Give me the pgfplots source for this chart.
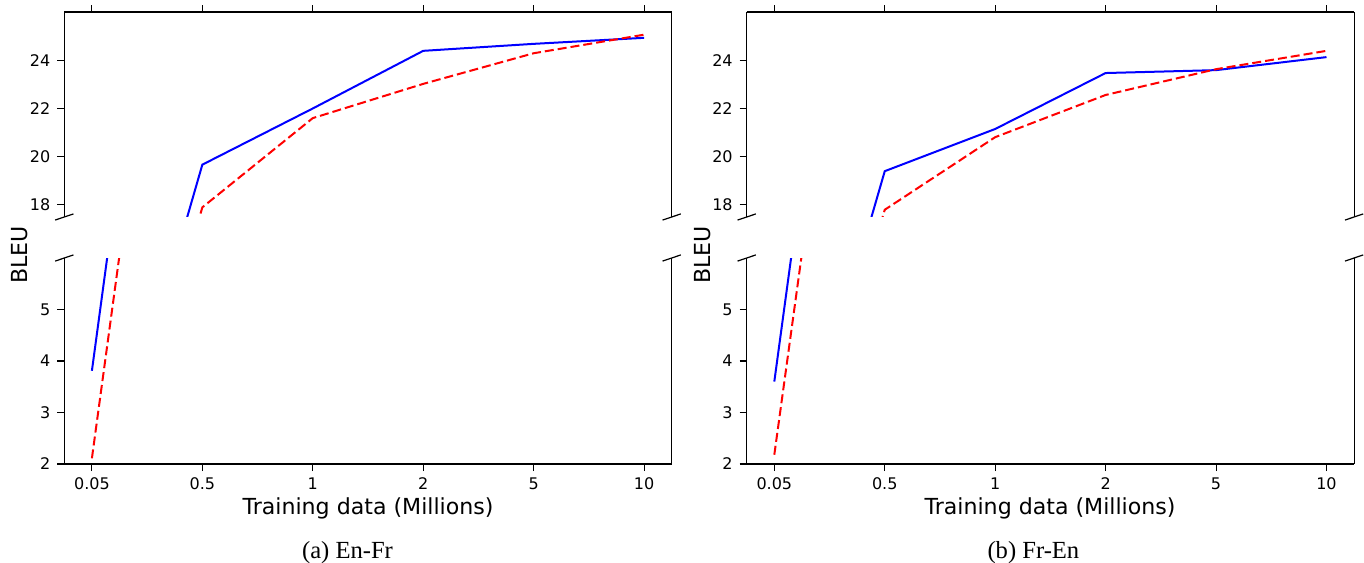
\documentclass[border=0pt]{standalone}
\usepackage{fontspec}
\setmainfont{DejaVu Sans}
\newfontfamily\capfont{Liberation Serif}
\usepackage{pgfplots}
\usepackage{pgfplotstable}
\pgfplotsset{compat=1.18}

% x = category index (0.05, 0.5, 1, 2, 5, 10 million sentences)
\pgfplotstableread{
x blue  red
0 3.81  2.11
1 19.67 17.90
2 22.00 21.60
3 24.39 23.02
4 24.68 24.29
5 24.93 25.06
}\enfr
\pgfplotstableread{
x blue  red
0 3.60  2.18
1 19.40 17.80
2 21.15 20.81
3 23.47 22.56
4 23.59 23.63
5 24.13 24.39
}\fren

\tikzset{
  brkmark/.style={black, line width=0.6pt},
  spine/.style={black, line width=0.55pt},
}
\pgfplotsset{
  brk/.style={
    scale only axis, width=303.7pt, xmin=-0.25, xmax=5.25,
    xtick={0,...,5}, clip mode=individual,
    tick align=outside, major tick length=3.5pt,
    every tick/.style={black, line width=0.55pt},
    axis line style={line width=0.55pt},
    tick label style={font=\fontsize{8}{9}\selectfont},
    /pgf/number format/assume math mode=true,
    anchor=south west,
  },
  brktop/.style={brk, height=102.5pt, ymin=17.5, ymax=26, ytick={18,20,22,24},
    axis x line*=top, axis y line*=left, xticklabels={}},
  brkbot/.style={brk, height=103pt, ymin=2, ymax=6, ytick={2,3,4,5},
    axis x line*=bottom, axis y line*=left, xticklabels={0.05,0.5,1,2,5,10}},
  blueline/.style={blue, line width=1pt, no marks},
  redline/.style={red, line width=1pt, dash pattern=on 4.5pt off 2pt, no marks},
}
\newcommand{\topdeco}{%
  \draw[spine] (rel axis cs:1,0) -- (rel axis cs:1,1);
  \draw[brkmark] (rel axis cs:-0.015,-0.015) -- (rel axis cs:0.015,0.015);
  \draw[brkmark] (rel axis cs:0.985,-0.015) -- (rel axis cs:1.015,0.015);}
\newcommand{\botdeco}{%
  \draw[spine] (rel axis cs:1,0) -- (rel axis cs:1,1);
  \draw[brkmark] (rel axis cs:-0.015,0.985) -- (rel axis cs:0.015,1.015);
  \draw[brkmark] (rel axis cs:0.985,0.985) -- (rel axis cs:1.015,1.015);}

\begin{document}
\begin{tikzpicture}
\path[use as bounding box] (0,0) rectangle (682pt,281pt);

% (a) En-Fr
\begin{axis}[brktop, at={(32.15pt,172.5pt)}]
\addplot[blueline] table[x=x,y=blue]{\enfr};
\addplot[redline] table[x=x,y=red]{\enfr};
\topdeco
\end{axis}
\begin{axis}[brkbot, at={(32.15pt,49pt)}]
\addplot[blueline] table[x=x,y=blue]{\enfr};
\addplot[redline] table[x=x,y=red]{\enfr};
\botdeco
\end{axis}

% (b) Fr-En
\begin{axis}[brktop, at={(373.35pt,172.5pt)}]
\addplot[blueline] table[x=x,y=blue]{\fren};
\addplot[redline] table[x=x,y=red]{\fren};
\topdeco
\end{axis}
\begin{axis}[brkbot, at={(373.35pt,49pt)}]
\addplot[blueline] table[x=x,y=blue]{\fren};
\addplot[redline] table[x=x,y=red]{\fren};
\botdeco
\end{axis}

\node[rotate=90, font=\fontsize{11.05}{13}\selectfont] at (10pt,153.5pt) {BLEU};
\node[rotate=90, font=\fontsize{11.05}{13}\selectfont] at (351.5pt,153.5pt) {BLEU};
\node[anchor=base, font=\fontsize{11.05}{13}\selectfont, inner sep=0pt] at (184pt,23.5pt) {Training data (Millions)};
\node[anchor=base, font=\fontsize{11.05}{13}\selectfont, inner sep=0pt] at (525pt,23.5pt) {Training data (Millions)};
\node[anchor=base, font=\capfont\fontsize{12.3}{14}\selectfont, inner sep=0pt] at (173.75pt,1.75pt) {(a) En-Fr};
\node[anchor=base, font=\capfont\fontsize{12.3}{14}\selectfont, inner sep=0pt] at (516.7pt,1.75pt) {(b) Fr-En};
\end{tikzpicture}
\end{document}
